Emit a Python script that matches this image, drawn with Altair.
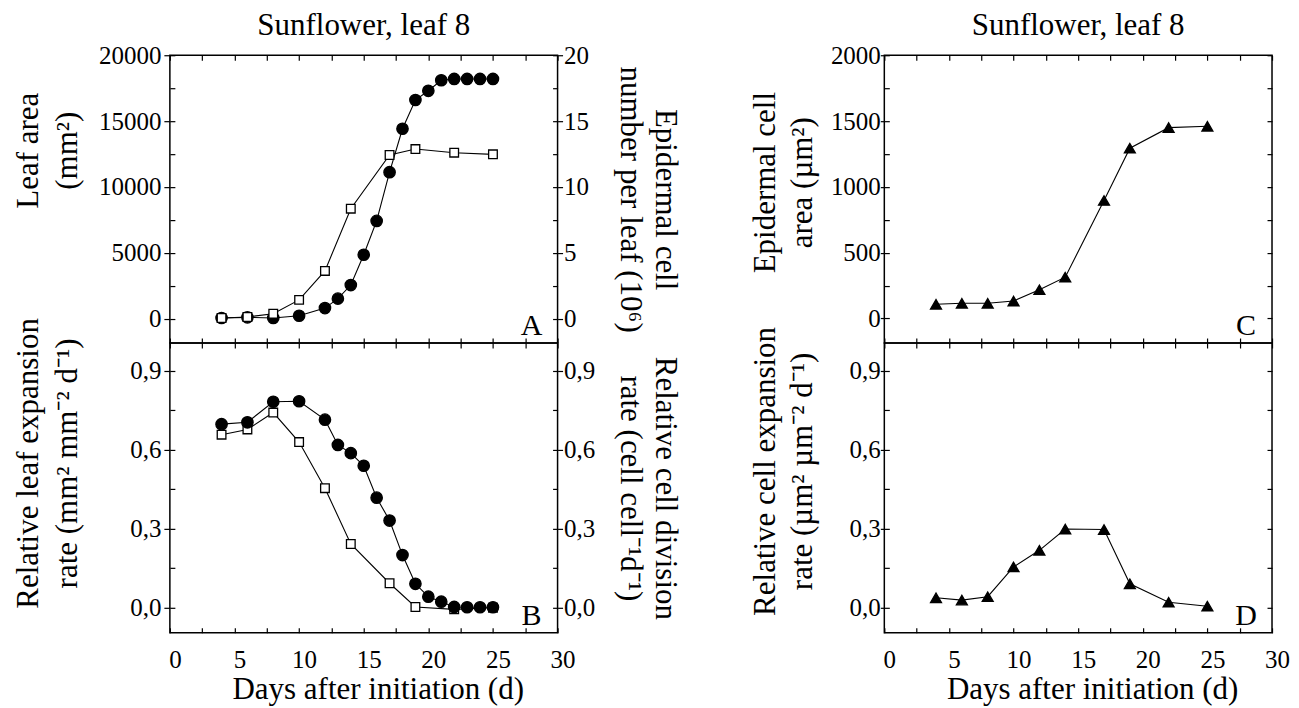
import altair as alt
import pandas as pd

FONT = "Liberation Serif"

# ---------------- data ----------------
area_days = [4, 6, 8, 10, 12, 14, 17, 19, 22, 25]
leaf_area = [50, 125, 375, 1425, 3625, 8350, 12425, 12875, 12600, 12475]

cell_days = [4, 6, 8, 10, 12, 13, 14, 15, 16, 17, 18, 19, 20, 21, 22, 23, 24, 25]
cell_number = [0.05, 0.1, 0.05, 0.22, 0.8, 1.52, 2.55, 4.85, 7.42, 11.12,
               14.42, 16.6, 17.3, 18.1, 18.2, 18.2, 18.2, 18.2]

leaf_exp_rate = [0.657, 0.677, 0.741, 0.629, 0.454, 0.242, 0.093, 0.003, -0.006, 0.0]
cell_div_rate = [0.697, 0.704, 0.782, 0.784, 0.714, 0.618, 0.587, 0.539, 0.418, 0.331,
                 0.200, 0.091, 0.042, 0.023, 0.003, 0.002, 0.002, 0.002]

tri_days = [4, 6, 8, 10, 12, 14, 17, 19, 22, 25]
cell_area = [108, 116, 116, 133, 219, 314, 897, 1294, 1450, 1460]
cell_exp_rate = [0.038, 0.029, 0.042, 0.155, 0.218, 0.299, 0.297, 0.091, 0.021, 0.006]

# tick values / labels
x_tick_values = [0, 2.5, 5, 7.5, 10, 12.5, 15, 17.5, 20, 22.5, 25, 27.5, 30]
x_label_values = [0, 5, 10, 15, 20, 25, 30]
area_tick_values = [0, 2500, 5000, 7500, 10000, 12500, 15000, 17500, 20000]
area_label_values = [0, 5000, 10000, 15000, 20000]
number_tick_values = [0, 2.5, 5, 7.5, 10, 12.5, 15, 17.5, 20]
number_label_values = [0, 5, 10, 15, 20]
rate_tick_values = [0, 0.15, 0.3, 0.45, 0.6, 0.75, 0.9]
rate_label_values = [0, 0.3, 0.6, 0.9]
carea_tick_values = [0, 250, 500, 750, 1000, 1250, 1500, 1750, 2000]
carea_label_values = [0, 500, 1000, 1500, 2000]

panel_title = "Sunflower, leaf 8"
x_title = "Days after initiation (d)"
title_A_left = ["Leaf area", "(mm²)"]
title_A_right = ["Epidermal cell", "number per leaf (10⁶)"]
title_B_left = ["Relative leaf expansion", "rate (mm² mm⁻² d⁻¹)"]
title_B_right = ["Relative cell division", "rate (cell cell⁻¹d⁻¹)"]
title_C_left = ["Epidermal cell", "area (µm²)"]
title_D_left = ["Relative cell expansion", "rate (µm² µm⁻² d⁻¹)"]

df_area = pd.DataFrame({"day": area_days, "v": leaf_area})
df_num = pd.DataFrame({"day": cell_days, "v": cell_number})
df_ler = pd.DataFrame({"day": area_days, "v": leaf_exp_rate})
df_cdr = pd.DataFrame({"day": cell_days, "v": cell_div_rate})
df_carea = pd.DataFrame({"day": tri_days, "v": cell_area})
df_cer = pd.DataFrame({"day": tri_days, "v": cell_exp_rate})

# ---------------- helpers ----------------
W = 388
H1 = 288
H2 = 290
XSCALE = alt.Scale(domain=[0, 30], nice=False, zero=False)
COMMA = "replace(format(datum.value, '.1f'), '.', ',')"


def yscale(lo, hi):
    return alt.Scale(domain=[lo, hi], nice=False, zero=False)


def series(df, ys, shape, fill, size):
    base = alt.Chart(df).encode(
        x=alt.X("day:Q", scale=XSCALE, axis=None),
        y=alt.Y("v:Q", scale=ys, axis=None),
    )
    line = base.mark_line(color="black", strokeWidth=1.1)
    pts = base.mark_point(shape=shape, filled=True, fill=fill, stroke="black",
                          strokeWidth=1.3, size=size, opacity=1)
    return [line, pts]


def ax_layer(df, ys, xaxis, yaxis):
    return alt.Chart(df).mark_point(opacity=0, size=1).encode(
        x=alt.X("day:Q", scale=XSCALE, axis=xaxis),
        y=alt.Y("v:Q", scale=ys, axis=yaxis),
    )


def inner_ticks(orient, values):
    return alt.Axis(orient=orient, values=values, offset=-5, tickSize=5, tickWidth=1.2,
                    tickColor="black", ticks=True, labels=False, domain=False,
                    grid=False, title=None, minExtent=0, maxExtent=0)


def ylab_axis(orient, values, title, title_x, line_h, tick, pad, title_y=None,
              fmt=None, expr=None):
    kw = dict(orient=orient, values=values, ticks=True, tickSize=tick, tickWidth=1.2,
              tickColor="black", labelPadding=pad, domain=False, grid=False,
              minExtent=0, maxExtent=300,
              labelFont=FONT, labelFontSize=25, labelColor="black",
              title=title, titleX=title_x, titleAngle=270 if orient == "left" else 90,
              titleAlign="center", titleBaseline="bottom", titleLineHeight=line_h,
              titleFont=FONT, titleFontSize=31, titleFontWeight="normal",
              titleColor="black")
    if title_y is not None:
        kw["titleY"] = title_y
    if fmt is not None:
        kw["format"] = fmt
    if expr is not None:
        kw["labelExpr"] = expr
    return alt.Axis(**kw)


def xlab_axis():
    return alt.Axis(orient="bottom", values=x_label_values, ticks=False, labelPadding=15,
                    labelOffset=5, labelFlush=False, domain=False, grid=False, format="d",
                    minExtent=0, maxExtent=300,
                    labelFont=FONT, labelFontSize=25, labelColor="black",
                    title=x_title, titleX=W / 2 + 14, titleY=66, titleAlign="center",
                    titleBaseline="alphabetic", titleFont=FONT, titleFontSize=31,
                    titleFontWeight="normal", titleColor="black")


def letter(ch, h):
    return alt.Chart(pd.DataFrame({"t": [ch]})).mark_text(
        font=FONT, fontSize=30, color="black", align="center", baseline="middle"
    ).encode(text="t:N", x=alt.value(W - 26), y=alt.value(h - 17))


def finish(layers, h, title=None):
    ch = alt.layer(*layers).resolve_scale(y="independent").resolve_axis(
        x="independent", y="independent")
    if title is not None:
        ch = ch.properties(width=W, height=h, title=alt.TitleParams(
            text=title, font=FONT, fontSize=31, fontWeight="normal", color="black",
            anchor="middle", frame="group", baseline="alphabetic", offset=-23))
    else:
        ch = ch.properties(width=W, height=h)
    return ch


# ---------------- panel A ----------------
ysA = yscale(-1850, 20000)
ysAr = yscale(-1.85, 20)
A = finish(
    series(df_num, ysAr, "circle", "black", 130)
    + series(df_area, ysA, "square", "white", 75)
    + [
        ax_layer(df_area, ysA, None,
                 ylab_axis("left", area_label_values, title_A_left, -125.5, 39, 6, 3,
                           title_y=95, fmt="d")),
        ax_layer(df_area, ysA, inner_ticks("bottom", x_tick_values),
                 inner_ticks("left", area_tick_values)),
        ax_layer(df_num, ysAr, inner_ticks("top", x_tick_values),
                 inner_ticks("right", number_tick_values)),
        ax_layer(df_num, ysAr, None,
                 ylab_axis("right", number_label_values, title_A_right, 91, 35, 5, 1,
                           fmt="d")),
        letter("A", H1),
    ],
    H1, panel_title)

# ---------------- panel B ----------------
ysB = yscale(-0.095, 1.005)
B = finish(
    series(df_ler, ysB, "square", "white", 75)
    + series(df_cdr, ysB, "circle", "black", 130)
    + [
        ax_layer(df_ler, ysB, xlab_axis(),
                 ylab_axis("left", rate_label_values, title_B_left, -125.5, 39, 6, 3,
                           title_y=120, expr=COMMA)),
        ax_layer(df_ler, ysB, inner_ticks("bottom", x_tick_values),
                 inner_ticks("left", rate_tick_values)),
        ax_layer(df_cdr, ysB, inner_ticks("top", x_tick_values),
                 inner_ticks("right", rate_tick_values)),
        ax_layer(df_cdr, ysB, None,
                 ylab_axis("right", rate_label_values, title_B_right, 91, 35, 5, 1,
                           expr=COMMA)),
        letter("B", H2),
    ],
    H2)

# ---------------- panel C ----------------
ysC = yscale(-186, 2000)
C = finish(
    series(df_carea, ysC, "triangle-up", "black", 120)
    + [
        ax_layer(df_carea, ysC, None,
                 ylab_axis("left", carea_label_values, title_C_left, -103, 37, 4, 0,
                           title_y=127, fmt="d")),
        ax_layer(df_carea, ysC, inner_ticks("bottom", x_tick_values),
                 inner_ticks("left", carea_tick_values)),
        ax_layer(df_carea, ysC, inner_ticks("top", x_tick_values),
                 inner_ticks("right", carea_tick_values)),
        letter("C", H1),
    ],
    H1, panel_title)

# ---------------- panel D ----------------
ysD = yscale(-0.095, 1.005)
D = finish(
    series(df_cer, ysD, "triangle-up", "black", 120)
    + [
        ax_layer(df_cer, ysD, xlab_axis(),
                 ylab_axis("left", rate_label_values, title_D_left, -103, 37, 4, 0,
                           title_y=128, expr=COMMA)),
        ax_layer(df_cer, ysD, inner_ticks("bottom", x_tick_values),
                 inner_ticks("left", rate_tick_values)),
        ax_layer(df_cer, ysD, inner_ticks("top", x_tick_values),
                 inner_ticks("right", rate_tick_values)),
        letter("D", H2),
    ],
    H2)

left_col = alt.vconcat(A, B, spacing=0, bounds="flush")
right_col = alt.vconcat(C, D, spacing=0, bounds="flush")

chart = alt.hconcat(left_col, right_col, spacing=715, bounds="flush").properties(
    padding={"left": 3, "top": 1, "right": 0, "bottom": 0}
).configure_view(stroke="black", strokeWidth=1.5).configure_axis(grid=False)

chart.save("out.html", embed_options={"renderer": "svg", "actions": False})
